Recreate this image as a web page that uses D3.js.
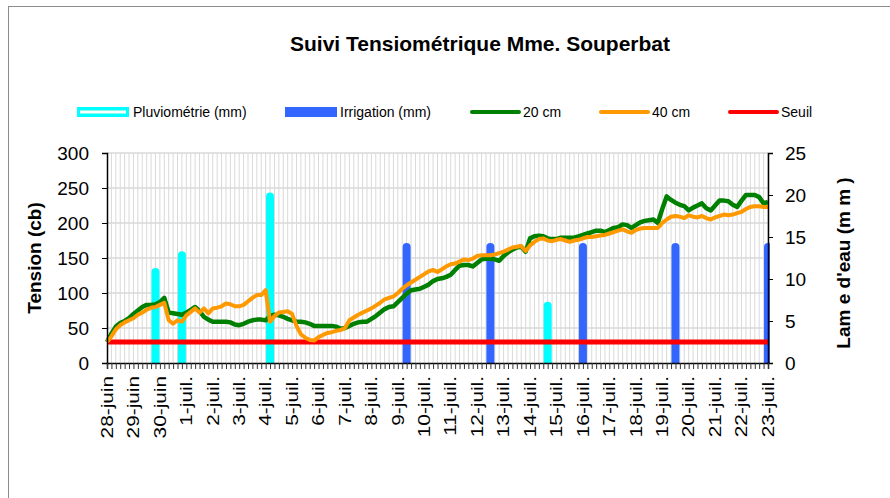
<!DOCTYPE html>
<html>
<head>
<meta charset="utf-8">
<script src="https://cdn.jsdelivr.net/npm/d3@7"></script>
<style>
  body { margin: 0; background: #fff; }
  svg { display: block; font-family: Arial, "Liberation Sans", sans-serif; }
</style>
</head>
<body>
<figure id="chart" style="margin:0"></figure>
<script>
// day labels, one reading every 4 hours (6 per day)
const dayLabels = ["28-juin", "29-juin", "30-juin", "1-juil.", "2-juil.", "3-juil.", "4-juil.", "5-juil.",
  "6-juil.", "7-juil.", "8-juil.", "9-juil.", "10-juil.", "11-juil.", "12-juil.", "13-juil.", "14-juil.",
  "15-juil.", "16-juil.", "17-juil.", "18-juil.", "19-juil.", "20-juil.", "21-juil.", "22-juil.", "23-juil."];
const readingsPerDay = 6;

// tension at 20 cm (cb)
const tension20 = [30, 42, 52, 57, 60, 64, 70, 75, 80, 83, 83, 84, 87, 93, 72, 71, 70, 69, 72, 76,
  80, 74, 66, 62, 59, 59, 59, 59, 58, 55, 54, 56, 59, 61, 62, 62, 61, 67, 69, 68,
  66, 63, 61, 59, 59, 58, 56, 53, 53, 53, 53, 53, 52, 49, 50, 53, 56, 58, 59, 59,
  63, 67, 72, 77, 80, 81, 87, 93, 99, 104, 105, 106, 109, 112, 117, 120, 121, 123, 126, 133,
  139, 140, 140, 138, 143, 148, 149, 149, 148, 146, 153, 158, 162, 165, 166, 159, 178, 181, 182, 181,
  178, 177, 177, 179, 179, 179, 179, 181, 183, 185, 187, 189, 189, 187, 190, 193, 194, 198, 197, 193,
  197, 201, 203, 204, 205, 200, 220, 238, 233, 229, 226, 224, 218, 222, 225, 228, 221, 218, 225, 232,
  232, 231, 226, 223, 232, 240, 240, 240, 237, 228, 230];

// tension at 40 cm (cb)
const tension40 = [30, 38, 48, 54, 58, 61, 64, 69, 72, 76, 79, 80, 83, 86, 61, 56, 61, 59, 68, 73,
  78, 72, 78, 71, 78, 79, 81, 85, 84, 81, 81, 83, 88, 93, 97, 97, 104, 59, 67, 72,
  73, 74, 70, 53, 41, 36, 33, 32, 37, 40, 43, 44, 46, 47, 50, 61, 65, 69, 72, 75,
  78, 82, 86, 91, 93, 95, 100, 106, 111, 115, 119, 123, 127, 131, 133, 130, 134, 138, 141, 142,
  145, 148, 147, 149, 153, 154, 154, 154, 155, 157, 159, 162, 165, 166, 167, 160, 168, 173, 177, 178,
  175, 174, 176, 177, 175, 173, 175, 176, 178, 180, 180, 181, 182, 183, 185, 187, 189, 191, 188, 186,
  190, 192, 193, 193, 193, 193, 200, 205, 209, 210, 209, 207, 211, 209, 208, 210, 207, 205, 208, 210,
  212, 211, 212, 214, 216, 220, 223, 224, 224, 223, 223];

// rain and irrigation (mm), by reading index
const pluieIndex = [11, 17, 37, 100];
const pluieMm = [11.3, 13.3, 20.3, 7.3];
const irrigIndex = [68, 87, 108, 129, 150];
const irrigMm = [14.3, 14.3, 14.3, 14.3, 14.3];

const seuil = 30;
const tensionTicks = [0, 50, 100, 150, 200, 250, 300];
const mmTicks = [0, 5, 10, 15, 20, 25];

const width = 890, height = 498;
const plotLeft = 107, plotRight = 768, plotTop = 153, plotBottom = 363;
const nReadings = (dayLabels.length - 1) * readingsPerDay;

const svg = d3.select("#chart").append("svg")
  .attr("width", width)
  .attr("height", height);

// outer chart border
svg.append("rect")
  .attr("x", 8.5).attr("y", 6.5)
  .attr("width", 1000).attr("height", 1000)
  .attr("fill", "none").attr("stroke", "#8c8c8c");

const x = d3.scaleLinear().domain([0, nReadings]).range([plotLeft, plotRight]);
const yT = d3.scaleLinear().domain([0, 300]).range([plotBottom, plotTop]);
const yMm = d3.scaleLinear().domain([0, 25]).range([plotBottom, plotTop]);

// gridlines
svg.append("g")
  .selectAll("line")
  .data(d3.range(1, nReadings + 1))
  .enter().append("line")
  .attr("x1", d => x(d)).attr("x2", d => x(d))
  .attr("y1", plotTop).attr("y2", plotBottom)
  .attr("stroke", "#d9d9d9").attr("stroke-width", 1);

svg.append("g")
  .selectAll("line")
  .data(tensionTicks.slice(1))
  .enter().append("line")
  .attr("x1", plotLeft).attr("x2", plotRight)
  .attr("y1", d => yT(d)).attr("y2", d => yT(d))
  .attr("stroke", "#d9d9d9").attr("stroke-width", 1.5);

svg.append("clipPath").attr("id", "plot")
  .append("rect")
  .attr("x", plotLeft).attr("y", 0)
  .attr("width", plotRight - plotLeft + 2).attr("height", plotBottom + 2);

// bars with rounded tops
function barPath(i, mm) {
  const cx = x(i), t = yMm(mm), w = 4;
  return "M" + (cx - w) + "," + (plotBottom + 1) + "V" + (t + w) +
    "A" + w + "," + w + " 0 0 1 " + (cx + w) + "," + (t + w) + "V" + (plotBottom + 1) + "Z";
}

const bars = svg.append("g").attr("clip-path", "url(#plot)");
bars.selectAll("path.pluie")
  .data(pluieIndex.map((d, k) => [d, pluieMm[k]]))
  .enter().append("path")
  .attr("class", "pluie")
  .attr("d", d => barPath(d[0], d[1]))
  .attr("fill", "#00ffff");

bars.selectAll("path.irrig")
  .data(irrigIndex.map((d, k) => [d, irrigMm[k]]))
  .enter().append("path")
  .attr("class", "irrig")
  .attr("d", d => barPath(d[0], d[1]))
  .attr("fill", "#3366ff");

// threshold
svg.append("line")
  .attr("x1", x(0)).attr("x2", x(nReadings))
  .attr("y1", yT(seuil)).attr("y2", yT(seuil))
  .attr("stroke", "#ff0000").attr("stroke-width", 5);

const line = d3.line()
  .x((d, i) => x(i))
  .y(d => yT(d));

svg.append("path")
  .datum(tension20)
  .attr("d", line)
  .attr("fill", "none")
  .attr("stroke", "#008000")
  .attr("stroke-width", 4.5)
  .attr("stroke-linejoin", "round");

svg.append("path")
  .datum(tension40)
  .attr("d", line)
  .attr("fill", "none")
  .attr("stroke", "#ff9900")
  .attr("stroke-width", 4)
  .attr("stroke-linejoin", "round");

// axes
const axisLeft = svg.append("g").attr("transform", "translate(" + plotLeft + ",0)")
  .call(d3.axisLeft(yT).tickValues(tensionTicks).tickSize(5).tickPadding(13));
const axisRight = svg.append("g").attr("transform", "translate(" + plotRight + ",0)")
  .call(d3.axisRight(yMm).tickValues(mmTicks).tickSize(5).tickPadding(12));
const axisBottom = svg.append("g").attr("transform", "translate(0," + plotBottom + ")")
  .call(d3.axisBottom(x).tickValues(d3.range(0, nReadings + 1)).tickSize(6).tickFormat(""));

[axisLeft, axisRight].forEach(g => {
  g.select(".domain").attr("stroke", "#000").attr("stroke-width", 1.5);
  g.selectAll(".tick line").attr("stroke", "#000");
  g.selectAll("text").attr("font-size", 19).attr("font-family", "Arial, 'Liberation Sans', sans-serif").attr("fill", "#000");
});
axisBottom.select(".domain").attr("stroke", "#000").attr("stroke-width", 1.5);
axisBottom.selectAll(".tick line").attr("stroke", "#333");

// day labels, rotated
svg.append("g")
  .selectAll("text")
  .data(dayLabels)
  .enter().append("text")
  .attr("transform", (d, i) => "translate(" + x(i * readingsPerDay) + "," + (plotBottom + 13) + ") rotate(-90) scale(1.3,1)")
  .attr("dy", "0.36em")
  .attr("text-anchor", "end")
  .attr("font-size", 16)
  .text(d => d);

// titles
svg.append("text")
  .attr("x", 480).attr("y", 51)
  .attr("text-anchor", "middle")
  .attr("font-size", 21).attr("font-weight", "bold")
  .text("Suivi Tensiométrique Mme. Souperbat");

svg.append("text")
  .attr("transform", "translate(41,258) rotate(-90)")
  .attr("text-anchor", "middle")
  .attr("font-size", 19).attr("font-weight", "bold")
  .text("Tension (cb)");

svg.append("text")
  .attr("transform", "translate(850,263) rotate(-90)")
  .attr("text-anchor", "middle")
  .attr("font-size", 19).attr("font-weight", "bold")
  .text("Lam e d'eau (m m )");

// legend
const legend = svg.append("g").attr("font-size", 14);
const ly = 112;

legend.append("rect").attr("x", 77).attr("y", ly - 5).attr("width", 52).attr("height", 10).attr("fill", "#00ffff");
legend.append("line").attr("x1", 80).attr("x2", 126).attr("y1", ly).attr("y2", ly)
  .attr("stroke", "#fff").attr("stroke-width", 3);
legend.append("text").attr("x", 133).attr("y", ly + 5).text("Pluviométrie (mm)");

legend.append("rect").attr("x", 285).attr("y", ly - 5).attr("width", 52).attr("height", 10).attr("fill", "#3366ff");
legend.append("text").attr("x", 340).attr("y", ly + 5).text("Irrigation (mm)");

const legendLines = [
  { label: "20 cm", color: "#008000", x0: 470 },
  { label: "40 cm", color: "#ff9900", x0: 599 },
  { label: "Seuil", color: "#ff0000", x0: 728 }
];
legend.selectAll("line.l")
  .data(legendLines)
  .enter().append("line")
  .attr("class", "l")
  .attr("x1", d => d.x0 + 2).attr("x2", d => d.x0 + 49)
  .attr("y1", ly).attr("y2", ly)
  .attr("stroke", d => d.color).attr("stroke-width", 4)
  .attr("stroke-linecap", "round");
legend.selectAll("text.l")
  .data(legendLines)
  .enter().append("text")
  .attr("class", "l")
  .attr("x", d => d.x0 + 53).attr("y", ly + 5)
  .text(d => d.label);
</script>
</body>
</html>
